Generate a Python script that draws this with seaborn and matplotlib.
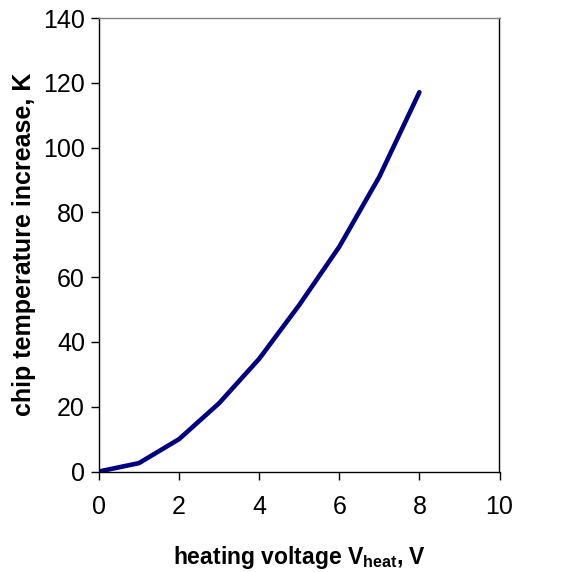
#!/usr/bin/env python3
"""
Chip temperature increase vs heating voltage.
"""

import pandas as pd
import matplotlib
matplotlib.use("Agg")
import matplotlib.pyplot as plt
import seaborn as sns

# data
voltage = [0, 1, 2, 3, 4, 5, 6, 7, 8]
temp_increase = [0, 2.6, 10.0, 21.1, 34.8, 51.4, 69.4, 91.0, 117.1]

x_ticks = [0, 2, 4, 6, 8, 10]
y_ticks = [0, 20, 40, 60, 80, 100, 120, 140]

LINE_COLOR = "#000080"


def main():
    sns.set_style("ticks")
    plt.rcParams["font.family"] = ["Liberation Sans", "DejaVu Sans"]
    plt.rcParams["mathtext.fontset"] = "custom"
    plt.rcParams["mathtext.rm"] = "Liberation Sans:bold"
    plt.rcParams["mathtext.default"] = "rm"
    plt.rcParams["text.color"] = "black"
    plt.rcParams["axes.labelcolor"] = "black"

    df = pd.DataFrame({"V": voltage, "dT": temp_increase})

    fig = plt.figure(figsize=(5.62, 5.72), dpi=100)
    ax = fig.add_axes([99 / 562, 1 - 471.5 / 572, 400.5 / 562, 453.5 / 572])

    sns.lineplot(data=df, x="V", y="dT", ax=ax, color=LINE_COLOR,
                 linewidth=3.3, solid_capstyle="round", solid_joinstyle="round")

    ax.set_xlim(0, 10)
    ax.set_ylim(0, 140)
    ax.set_xticks(x_ticks)
    ax.set_yticks(y_ticks)
    ax.tick_params(axis="both", direction="out", length=6, width=1,
                   color="black", labelsize=18, labelcolor="black")
    ax.tick_params(axis="x", pad=11)
    ax.tick_params(axis="y", pad=4)

    for side in ["left", "bottom", "right"]:
        ax.spines[side].set_visible(True)
        ax.spines[side].set_color("black")
        ax.spines[side].set_linewidth(1)
    ax.spines["top"].set_visible(True)
    ax.spines["top"].set_color("#808080")
    ax.spines["top"].set_linewidth(1)

    ax.set_xlabel(r"heating voltage V$_{heat}$, V", fontsize=16.5,
                  fontweight="bold", labelpad=18, color="black")
    ax.set_ylabel("chip temperature increase, K", fontsize=18,
                  fontweight="bold", labelpad=5, color="black")

    fig.savefig("out.png", dpi=100)
    plt.close(fig)


if __name__ == "__main__":
    main()
